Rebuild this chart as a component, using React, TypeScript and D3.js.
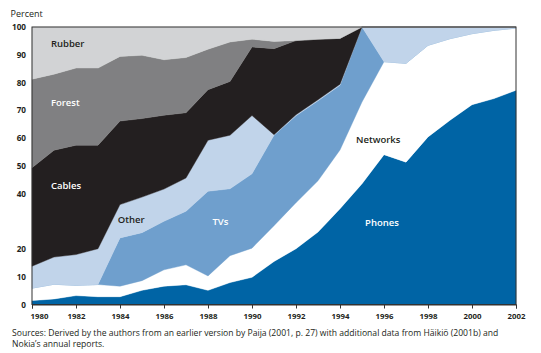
import React, { useEffect, useRef } from 'react';
import * as d3 from 'd3';

const years = d3.range(1980, 2003);

// shares in percent, bottom to top of the stack
const phones = [1.4, 2.0, 3.2, 2.8, 2.8, 5.1, 6.6, 7.1, 5.1, 7.9, 9.8, 15.5, 20.1, 26.1, 34.5, 43.5, 54.0, 51.3, 60.4, 66.4, 72.0, 74.2, 77.2];
const networks = [4.5, 5.3, 3.7, 4.4, 3.8, 3.5, 5.9, 7.2, 5.2, 9.7, 10.5, 12.9, 16.6, 18.5, 21.2, 29.5, 33.5, 35.6, 33.0, 29.4, 25.6, 24.6, 22.4];
const tvs = [0, 0, 0, 0, 17.4, 17.3, 17.5, 19.3, 30.5, 24.1, 26.8, 32.6, 31.3, 28.8, 23.3, 27.0, 0, 0, 0, 0, 0, 0, 0];
const other = [7.9, 9.8, 11.1, 12.9, 12.0, 12.8, 11.6, 12.0, 18.4, 19.3, 21.0, 0.2, 0.4, 0.4, 0.4, 0, 12.5, 13.1, 6.6, 4.2, 2.4, 1.2, 0.4];
const cables = [35.5, 38.5, 39.4, 37.3, 30.1, 28.3, 26.6, 23.5, 18.2, 19.4, 24.7, 31.0, 26.7, 21.8, 16.5, 0, 0, 0, 0, 0, 0, 0, 0];
const forest = [31.9, 27.4, 27.8, 27.8, 23.3, 22.8, 20.0, 19.9, 14.6, 14.2, 2.8, 2.6, 0, 0, 0, 0, 0, 0, 0, 0, 0, 0, 0];
const rubber = [18.8, 17.0, 14.8, 14.8, 10.6, 10.2, 11.8, 11.0, 8.0, 5.4, 4.4, 5.2, 4.9, 4.4, 4.1, 0, 0, 0, 0, 0, 0, 0, 0];

const yTicks = [0, 10, 20, 40, 50, 60, 70, 80, 90, 100];
const xTicks = d3.range(1980, 2003, 2);

const keys = ['Phones', 'Networks', 'TVs', 'Other', 'Cables', 'Forest', 'Rubber'];
const colors: Record<string, string> = {
  Phones: '#0064a5',
  Networks: '#ffffff',
  TVs: '#6f9fcd',
  Other: '#c1d4ea',
  Cables: '#231f20',
  Forest: '#808082',
  Rubber: '#d2d3d5',
};

// label positions in data units [year, percent]
const labels = [
  { text: 'Rubber', at: [1980.86, 92.9], fill: '#231f20' },
  { text: 'Forest', at: [1980.86, 71.5], fill: '#ffffff' },
  { text: 'Cables', at: [1980.86, 41.5], fill: '#ffffff' },
  { text: 'Other', at: [1983.9, 29.3], fill: '#231f20' },
  { text: 'TVs', at: [1988.2, 28.5], fill: '#ffffff' },
  { text: 'Networks', at: [1994.73, 58.3], fill: '#231f20' },
  { text: 'Phones', at: [1995.14, 28.3], fill: '#ffffff' },
];

const App = () => {
  const svgRef = useRef<SVGSVGElement>(null);

  useEffect(() => {
    const svg = d3.select(svgRef.current);
    svg.selectAll('*').remove();

    const x = d3.scaleLinear().domain([1980, 2002]).range([32, 516]);
    const y = d3.scaleLinear().domain([0, 100]).range([304.5, 27]);

    const table = years.map((yr, i) => ({
      year: yr,
      Phones: phones[i],
      Networks: networks[i],
      TVs: tvs[i],
      Other: other[i],
      Cables: cables[i],
      Forest: forest[i],
      Rubber: rubber[i],
    }));

    const series = d3.stack<any>().keys(keys)(table);

    const area = d3.area<any>()
      .x(d => x(d.data.year))
      .y0(d => y(d[0]))
      .y1(d => y(d[1]));

    svg.append('g')
      .selectAll('path')
      .data(series)
      .join('path')
      .attr('d', area)
      .attr('fill', d => colors[d.key])
      .attr('stroke', d => colors[d.key])
      .attr('stroke-width', 0.4);

    // frame
    svg.append('rect')
      .attr('x', x(1980))
      .attr('y', y(100))
      .attr('width', x(2002) - x(1980))
      .attr('height', y(0) - y(100))
      .attr('fill', 'none')
      .attr('stroke', '#333')
      .attr('stroke-width', 1);

    const font = "'Open Sans', sans-serif";

    // x axis
    const xAxis = svg.append('g')
      .attr('transform', `translate(0,${y(0)})`)
      .call(d3.axisBottom(x).tickValues(xTicks).tickFormat(d3.format('d')).tickSize(4).tickPadding(5));
    xAxis.select('.domain').attr('stroke', '#333');
    xAxis.selectAll('line').attr('stroke', '#333');
    xAxis.selectAll('text')
      .attr('font-family', font)
      .attr('font-weight', 700)
      .attr('font-size', 7.8)
      .attr('fill', '#231f20')
      .attr('dx', (d: any) => (d === 1980 ? 7 : 0));

    // y axis labels (no ticks)
    const yAxis = svg.append('g')
      .attr('transform', `translate(${x(1980)},0)`)
      .call(d3.axisLeft(y).tickValues(yTicks).tickSize(0).tickPadding(6));
    yAxis.select('.domain').remove();
    yAxis.selectAll('text')
      .attr('font-family', font)
      .attr('font-weight', 700)
      .attr('font-size', 8.2)
      .attr('fill', '#231f20');

    svg.append('text')
      .attr('x', 10.5)
      .attr('y', 17)
      .attr('font-family', font)
      .attr('font-size', 9)
      .attr('fill', '#231f20')
      .text('Percent');

    svg.append('g')
      .selectAll('text')
      .data(labels)
      .join('text')
      .attr('x', d => x(d.at[0]))
      .attr('y', d => y(d.at[1]))
      .attr('font-family', font)
      .attr('font-weight', 600)
      .attr('font-size', 9.5)
      .attr('fill', d => d.fill)
      .text(d => d.text);

    // two source lines as separate texts
    const sourceLines = [
      'Sources: Derived by the authors from an earlier version by Paija (2001, p. 27) with additional data from Häikiö (2001b) and',
      'Nokia’s annual reports.',
    ];
    svg.append('g')
      .selectAll('text')
      .data(sourceLines)
      .join('text')
      .attr('x', 12)
      .attr('y', (d, i) => 335.5 + i * 11.8)
      .attr('font-family', font)
      .attr('font-size', 8.6)
      .attr('fill', '#231f20')
      .text(d => d);
  }, []);

  return (
    <svg
      ref={svgRef}
      width={541}
      height={353}
      style={{ position: 'absolute', left: 0, top: 0, background: '#fff' }}
    />
  );
};

export default App;
